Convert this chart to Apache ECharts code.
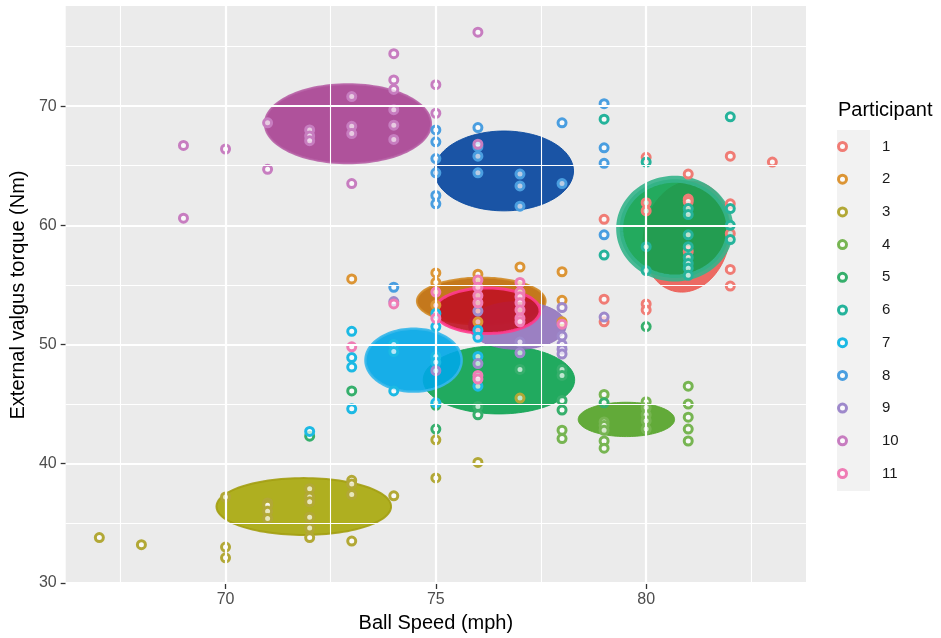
<!DOCTYPE html>
<html><head><meta charset="utf-8">
<script src="https://cdn.jsdelivr.net/npm/echarts@6/dist/echarts.min.js"></script>
<style>html,body{margin:0;padding:0;background:#fff}#c{width:941px;height:638px}</style>
</head><body><div id="c"></div>
<script>
// ---- data ----
const participants = ['1','2','3','4','5','6','7','8','9','10','11'];

const speed1  = [79,79,79,80,80,80,80,80,81,81,81,81,82,82,82,82,82,83];
const torque1 = [60.5,53.8,51.9,65.7,61.9,61.2,53.4,52.9,64.3,62.2,62.0,57.8,65.8,61.8,59.3,56.3,54.9,65.3];
const speed2  = [73,75,75,75,76,76,77,78,78,78];
const torque2 = [55.5,56.0,55.2,53.3,55.9,51.9,56.5,56.1,53.7,51.9];
const speed3  = [67,68,70,70,70,71,71,71,71,72,72,72,72,72,72,73,73,73,73,74,75,75,76,77];
const torque3 = [33.8,33.2,37.2,33.0,32.1,36.7,36.5,36.0,35.4,37.9,37.2,36.8,35.5,34.6,33.8,38.6,38.3,37.4,33.5,37.3,42.0,38.8,40.1,45.5];
const speed4  = [78,78,79,79,79,79,79,79,80,80,80,80,80,81,81,81,81,81];
const torque4 = [42.8,42.1,45.8,43.5,43.2,42.8,41.9,41.3,45.2,44.7,44.1,43.6,42.9,46.5,45.0,43.9,42.9,41.9];
const speed5  = [72,73,75,75,76,76,77,78,78,78,78,79,80];
const torque5 = [42.3,46.1,44.9,42.9,44.8,44.1,47.9,47.9,47.4,45.3,44.5,45.1,51.5];
const speed6  = [79,79,80,80,80,81,81,81,81,81,81,81,81,82,82,82,82];
const torque6 = [68.9,57.5,65.3,58.2,56.2,61.4,60.9,59.2,58.2,57.3,56.8,56.4,55.8,69.1,61.4,60.0,58.8];
const speed7  = [72,73,73,73,73,74,74,74,75,75,75,75,75,76,76,76,76];
const torque7 = [42.7,51.1,48.9,48.1,44.6,50.0,49.4,46.1,52.6,51.5,49.0,48.5,45.1,51.2,50.6,49.0,46.5];
const speed8  = [74,75,75,75,75,75,75,76,76,76,76,77,77,77,78,78,79,79,79,79];
const torque8 = [54.8,68.0,67.0,65.6,64.4,62.5,61.8,68.2,66.6,65.8,64.4,64.3,63.3,61.6,68.6,63.5,70.2,66.5,65.2,59.2];
const speed9  = [74,75,76,76,77,77,78,78,78,78,78,79];
const torque9 = [53.6,47.8,52.8,48.4,50.2,49.3,53.1,50.7,50.0,49.6,49.2,52.3];
const speed10  = [69,69,70,71,71,72,72,72,73,73,73,73,74,74,74,74,74,74,75,75,76,76];
const torque10 = [66.7,60.6,66.4,68.6,64.7,68.0,67.5,67.1,70.8,68.3,67.7,63.5,74.4,72.2,71.4,69.7,68.4,67.2,71.8,69.4,76.2,66.8];
const speed11  = [73,74,75,75,76,76,76,76,76,76,77,77,77,77,77,77,77,78];
const torque11 = [49.8,53.4,54.4,52.2,55.4,54.8,54.1,53.5,47.4,47.1,55.2,54.4,54.0,53.5,52.9,52.2,51.9,51.7];

// ellipse summaries per participant (centre, semi-axes in data units, tilt in degrees)
const ellCx   = [80.96, 76.08, 71.86, 79.53, 76.50, 80.68, 74.47, 76.62, 76.94, 72.91, 76.22];
const ellCy   = [59.04, 53.64, 36.40, 43.71, 47.03, 59.72, 48.68, 64.56, 51.59, 68.52, 52.83];
const ellRx   = [1.02, 1.53, 2.075, 1.146, 1.80, 1.31, 1.143, 1.653, 1.16, 1.976, 1.257];
const ellRy   = [4.69, 1.97, 2.385, 1.44, 2.86, 4.14, 2.636, 3.35, 2.0, 3.32, 1.91];
const ellTilt = [12, 0, 0, 0, 0, 0, 0, 0, 0, 0, 0];

// axis ticks and grid
const xTicks = [70, 75, 80];
const xMinor = [67.5, 72.5, 77.5, 82.5];
const yTicks = [30, 40, 50, 60, 70];
const yMinor = [35, 45, 55, 65, 75];

// ---- styles ----
const FONT = 'Liberation Sans, Arial, sans-serif';
const pointColors = ['#F07C75','#DC9535','#B2A836','#77B552','#36AF6C','#25B39B','#1CB9E4','#4A9EE0','#9E89CB','#C77DC0','#EF7CB5'];
const ellFill   = ['#EC5C54','#C06B05','#A8A90A','#53A326','#0BA350','#0DA34F','#00A7E8','#03449D','#9274BE','#A94192','#C01222'];
const ellStroke = ['#EC5C54','#D28C2A','#A39E12','#5AA630','#16A558','#35B48B','#36B7EA','#0A4AA0','#9274BE','#B762A6','#FF3C8E'];
const ellLw     = [1, 2, 2, 1, 1, 7, 2.5, 1, 1, 2, 3];

const speeds  = [speed1,speed2,speed3,speed4,speed5,speed6,speed7,speed8,speed9,speed10,speed11];
const torques = [torque1,torque2,torque3,torque4,torque5,torque6,torque7,torque8,torque9,torque10,torque11];

const chart = echarts.init(document.getElementById('c'), null, {renderer: 'canvas'});

function renderEllipse(params, api) {
  const i = params.dataIndex;
  const cx = api.value(0), cy = api.value(1);
  const c = api.coord([cx, cy]);
  const s = api.size([api.value(2), api.value(3)], [cx, cy]);
  const phi = api.value(4) * Math.PI / 180;
  const pts = [];
  const N = 120;
  for (let k = 0; k < N; k++) {
    const t = 2 * Math.PI * k / N;
    const ex = s[0] * Math.cos(t), ey = s[1] * Math.sin(t);
    pts.push([c[0] + ex * Math.cos(phi) - ey * Math.sin(phi),
              c[1] + ex * Math.sin(phi) + ey * Math.cos(phi)]);
  }
  return {
    type: 'polygon',
    shape: {points: pts},
    style: {fill: ellFill[i], stroke: ellStroke[i], lineWidth: ellLw[i], opacity: 0.9}
  };
}

const gridLines = [].concat(
  xMinor.map(v => ({xAxis: v, lineStyle: {width: 1.1}})),
  xTicks.map(v => ({xAxis: v, lineStyle: {width: 2.2}})),
  yMinor.map(v => ({yAxis: v, lineStyle: {width: 1.1}})),
  yTicks.map(v => ({yAxis: v, lineStyle: {width: 2.2}}))
);

const series = [
  {
    type: 'scatter', name: 'grid', data: [], silent: true, z: 1,
    markLine: {
      silent: true, animation: false, symbol: ['none','none'],
      label: {show: false},
      lineStyle: {color: '#ffffff', type: 'solid', width: 1},
      emphasis: {disabled: true},
      data: gridLines
    }
  },
  {
    type: 'custom', name: 'ellipses', silent: true, z: 2,
    renderItem: renderEllipse,
    data: ellCx.map((cx, i) => [cx, ellCy[i], ellRx[i], ellRy[i], ellTilt[i]]),
    encode: {x: 0, y: 1}
  }
].concat(participants.map((name, i) => ({
  type: 'scatter', name: name, z: 3, silent: true,
  symbol: 'circle', symbolSize: 8,
  itemStyle: {color: 'rgba(255,255,255,0.7)', borderColor: pointColors[i], borderWidth: 3, opacity: 1},
  emphasis: {disabled: true},
  data: speeds[i].map((x, j) => [x, torques[i][j]])
})));

chart.setOption({
  animation: false,
  backgroundColor: '#ffffff',
  textStyle: {fontFamily: FONT},
  grid: {left: 63, top: 6, width: 743, height: 579, show: true, backgroundColor: '#EBEBEB', borderWidth: 0, containLabel: false},
  title: {
    text: 'Participant', left: 838, top: 100, padding: 0,
    textStyle: {fontSize: 20, fontWeight: 'normal', color: '#000', fontFamily: FONT}
  },
  graphic: [{type: 'rect', left: 837, top: 130, shape: {width: 33, height: 361}, style: {fill: '#F2F2F2'}, z: 0}],
  legend: {
    orient: 'vertical', left: 837, top: 139, padding: 0,
    itemWidth: 33, itemHeight: 8, itemGap: 17.7,
    icon: 'circle',
    data: participants,
    itemStyle: {borderWidth: 3},
    textStyle: {fontSize: 15, lineHeight: 15, color: '#1A1A1A', fontFamily: FONT, padding: [0, 0, 0, 18]},
    selectedMode: false
  },
  xAxis: {
    type: 'value', min: 66.2, max: 83.8,
    name: 'Ball Speed (mph)', nameLocation: 'middle', nameGap: 29,
    nameTextStyle: {fontSize: 20, color: '#000', fontFamily: FONT},
    axisLine: {show: false},
    axisTick: {show: true, customValues: xTicks, length: 5, lineStyle: {color: '#333333', width: 1.3}},
    axisLabel: {customValues: xTicks, color: '#4D4D4D', fontSize: 16, margin: 8, fontFamily: FONT},
    splitLine: {show: false}
  },
  yAxis: {
    type: 'value', min: 29.9, max: 78.4,
    name: 'External valgus torque (Nm)', nameLocation: 'middle', nameGap: 31,
    nameTextStyle: {fontSize: 20, color: '#000', fontFamily: FONT},
    axisLine: {show: false},
    axisTick: {show: true, customValues: yTicks, length: 5, lineStyle: {color: '#333333', width: 1.3}},
    axisLabel: {customValues: yTicks, color: '#4D4D4D', fontSize: 16, margin: 9, fontFamily: FONT},
    splitLine: {show: false}
  },
  series: series
});
</script>
</body></html>
